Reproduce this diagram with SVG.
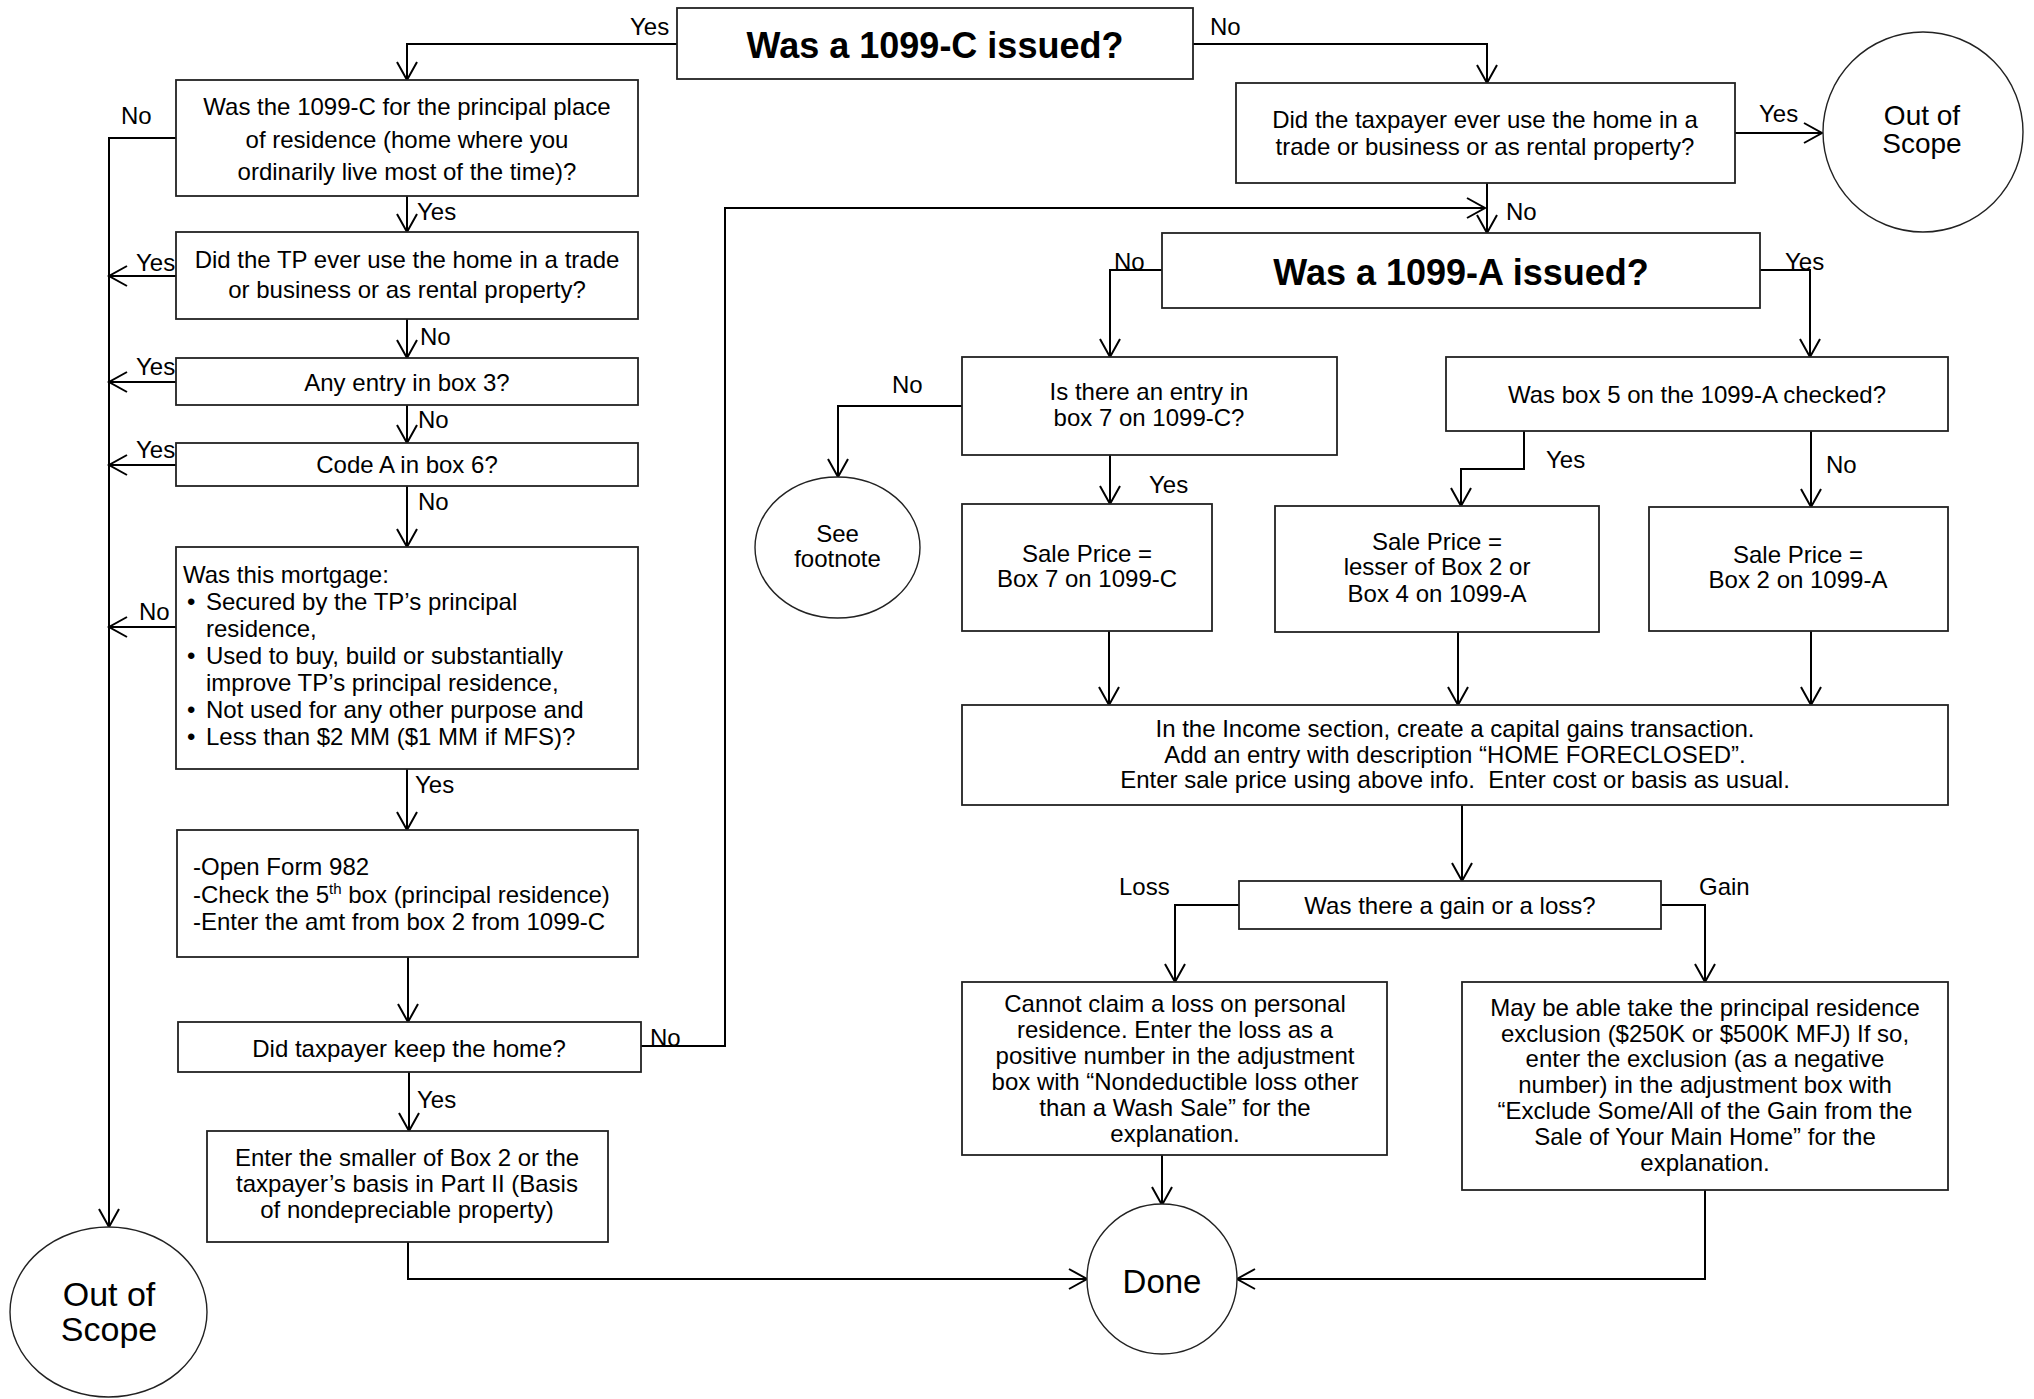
<svg xmlns="http://www.w3.org/2000/svg" width="2034" height="1399" viewBox="0 0 2034 1399">
<style>
text{font-family:"Liberation Sans",Arial,sans-serif;font-size:24px;fill:#000}
.c{text-anchor:middle}
.t{font-size:36px;font-weight:bold}
.big{font-size:34px}
.mid{font-size:28px}
.done{font-size:33px}
.sup{font-size:15px}
.lab{font-size:24px}
.box{fill:#fff;stroke:#222;stroke-width:1.8}
.oval{fill:#fff;stroke:#222;stroke-width:1.4}
.ln{fill:none;stroke:#000;stroke-width:2}
</style>
<defs>
<marker id="ar" markerWidth="20" markerHeight="22" refX="18" refY="11" orient="auto" markerUnits="userSpaceOnUse" overflow="visible">
<path d="M0,1 L18,11 L0,21" fill="none" stroke="#000" stroke-width="2"/>
</marker>
</defs>
<rect width="2034" height="1399" fill="#fff"/>

<g id="connectors">
<path class="ln" d="M677,44 H407 V80" marker-end="url(#ar)"/>
<path class="ln" d="M1193,44 H1487 V83" marker-end="url(#ar)"/>
<path class="ln" d="M1735,133 H1822" marker-end="url(#ar)"/>
<path class="ln" d="M1487,183 V233" marker-end="url(#ar)"/>
<path class="ln" d="M641,1046 H725 V208 H1485" marker-end="url(#ar)"/>
<path class="ln" d="M1162,270 H1110 V357" marker-end="url(#ar)"/>
<path class="ln" d="M1760,270 H1810 V357" marker-end="url(#ar)"/>
<path class="ln" d="M962,406 H838 V477" marker-end="url(#ar)"/>
<path class="ln" d="M1110,455 V504" marker-end="url(#ar)"/>
<path class="ln" d="M1109,631 V705" marker-end="url(#ar)"/>
<path class="ln" d="M1524,431 V469 H1461 V506" marker-end="url(#ar)"/>
<path class="ln" d="M1811,431 V507" marker-end="url(#ar)"/>
<path class="ln" d="M1458,632 V705" marker-end="url(#ar)"/>
<path class="ln" d="M1811,631 V705" marker-end="url(#ar)"/>
<path class="ln" d="M1462,805 V881" marker-end="url(#ar)"/>
<path class="ln" d="M1239,905 H1175 V982" marker-end="url(#ar)"/>
<path class="ln" d="M1661,905 H1705 V982" marker-end="url(#ar)"/>
<path class="ln" d="M1162,1155 V1205" marker-end="url(#ar)"/>
<path class="ln" d="M1705,1190 V1279 H1237" marker-end="url(#ar)"/>
<path class="ln" d="M408,1242 V1279 H1087" marker-end="url(#ar)"/>
<path class="ln" d="M176,138 H109 V1227" marker-end="url(#ar)"/>
<path class="ln" d="M176,276 H109" marker-end="url(#ar)"/>
<path class="ln" d="M176,382 H109" marker-end="url(#ar)"/>
<path class="ln" d="M176,465 H109" marker-end="url(#ar)"/>
<path class="ln" d="M176,627 H109" marker-end="url(#ar)"/>
<path class="ln" d="M407,196 V232" marker-end="url(#ar)"/>
<path class="ln" d="M407,319 V358" marker-end="url(#ar)"/>
<path class="ln" d="M407,405 V443" marker-end="url(#ar)"/>
<path class="ln" d="M407,486 V547" marker-end="url(#ar)"/>
<path class="ln" d="M407,769 V830" marker-end="url(#ar)"/>
<path class="ln" d="M408,957 V1022" marker-end="url(#ar)"/>
<path class="ln" d="M409,1072 V1131" marker-end="url(#ar)"/>
<g class="labels">
<text class="lab" x="630" y="35">Yes</text>
<text class="lab" x="1210" y="35">No</text>
<text class="lab" x="1759" y="122">Yes</text>
<text class="lab" x="1506" y="220">No</text>
<text class="lab" x="1114" y="270">No</text>
<text class="lab" x="1785" y="270">Yes</text>
<text class="lab" x="892" y="393">No</text>
<text class="lab" x="1149" y="493">Yes</text>
<text class="lab" x="1546" y="468">Yes</text>
<text class="lab" x="1826" y="473">No</text>
<text class="lab" x="1119" y="895">Loss</text>
<text class="lab" x="1699" y="895">Gain</text>
<text class="lab" x="121" y="124">No</text>
<text class="lab" x="136" y="271">Yes</text>
<text class="lab" x="136" y="375">Yes</text>
<text class="lab" x="136" y="458">Yes</text>
<text class="lab" x="139" y="620">No</text>
<text class="lab" x="417" y="220">Yes</text>
<text class="lab" x="420" y="345">No</text>
<text class="lab" x="418" y="428">No</text>
<text class="lab" x="418" y="510">No</text>
<text class="lab" x="415" y="793">Yes</text>
<text class="lab" x="417" y="1108">Yes</text>
<text class="lab" x="650" y="1046">No</text>
</g>
</g>

<g id="n-1099c">
<rect class="box" x="677" y="8" width="516" height="71"/>
<text class="c t" x="935" y="58">Was a 1099-C issued?</text>
</g>
<g id="n-principal">
<rect class="box" x="176" y="80" width="462" height="116"/>
<text class="c" x="407" y="115">Was the 1099-C for the principal place</text>
<text class="c" x="407" y="148">of residence (home where you</text>
<text class="c" x="407" y="180">ordinarily live most of the time)?</text>
</g>
<g id="n-tp-trade">
<rect class="box" x="176" y="232" width="462" height="87"/>
<text class="c" x="407" y="268">Did the TP ever use the home in a trade</text>
<text class="c" x="407" y="298">or business or as rental property?</text>
</g>
<g id="n-box3">
<rect class="box" x="176" y="358" width="462" height="47"/>
<text class="c" x="407" y="391">Any entry in box 3?</text>
</g>
<g id="n-box6">
<rect class="box" x="176" y="443" width="462" height="43"/>
<text class="c" x="407" y="473">Code A in box 6?</text>
</g>
<g id="n-mortgage">
<rect class="box" x="176" y="547" width="462" height="222"/>
<text x="183" y="583">Was this mortgage:</text>
<text x="187" y="610">•</text><text x="206" y="610">Secured by the TP’s principal</text>
<text x="206" y="637">residence,</text>
<text x="187" y="664">•</text><text x="206" y="664">Used to buy, build or substantially</text>
<text x="206" y="691">improve TP’s principal residence,</text>
<text x="187" y="718">•</text><text x="206" y="718">Not used for any other purpose and</text>
<text x="187" y="745">•</text><text x="206" y="745">Less than $2 MM ($1 MM if MFS)?</text>
</g>
<g id="n-form982">
<rect class="box" x="177" y="830" width="461" height="127"/>
<text x="193" y="875">-Open Form 982</text>
<text x="193" y="903">-Check the 5<tspan class="sup" dy="-9">th</tspan><tspan dy="9"> box (principal residence)</tspan></text>
<text x="193" y="930">-Enter the amt from box 2 from 1099-C</text>
</g>
<g id="n-keep">
<rect class="box" x="178" y="1022" width="463" height="50"/>
<text class="c" x="409" y="1057">Did taxpayer keep the home?</text>
</g>
<g id="n-smaller">
<rect class="box" x="207" y="1131" width="401" height="111"/>
<text class="c" x="407" y="1166">Enter the smaller of Box 2 or the</text>
<text class="c" x="407" y="1192">taxpayer’s basis in Part II (Basis</text>
<text class="c" x="407" y="1218">of nondepreciable property)</text>
</g>
<g id="n-oos-left">
<ellipse class="oval" cx="108.5" cy="1312" rx="98.5" ry="85"/>
<text class="c big" x="109" y="1306">Out of</text>
<text class="c big" x="109" y="1341">Scope</text>
</g>
<g id="n-taxpayer-trade">
<rect class="box" x="1236" y="83" width="499" height="100"/>
<text class="c" x="1485" y="128">Did the taxpayer ever use the home in a</text>
<text class="c" x="1485" y="155">trade or business or as rental property?</text>
</g>
<g id="n-oos-right">
<circle class="oval" cx="1923" cy="132" r="100"/>
<text class="c mid" x="1922" y="125">Out of</text>
<text class="c mid" x="1922" y="153">Scope</text>
</g>
<g id="n-1099a">
<rect class="box" x="1162" y="233" width="598" height="75"/>
<text class="c t" x="1461" y="285">Was a 1099-A issued?</text>
</g>
<g id="n-box7">
<rect class="box" x="962" y="357" width="375" height="98"/>
<text class="c" x="1149" y="400">Is there an entry in</text>
<text class="c" x="1149" y="426">box 7 on 1099-C?</text>
</g>
<g id="n-footnote">
<ellipse class="oval" cx="837.5" cy="547.5" rx="82.5" ry="70.5"/>
<text class="c" x="837.5" y="542">See</text>
<text class="c" x="837.5" y="567">footnote</text>
</g>
<g id="n-box5">
<rect class="box" x="1446" y="357" width="502" height="74"/>
<text class="c" x="1697" y="403">Was box 5 on the 1099-A checked?</text>
</g>
<g id="n-sale7">
<rect class="box" x="962" y="504" width="250" height="127"/>
<text class="c" x="1087" y="562">Sale Price =</text>
<text class="c" x="1087" y="587">Box 7 on 1099-C</text>
</g>
<g id="n-lesser">
<rect class="box" x="1275" y="506" width="324" height="126"/>
<text class="c" x="1437" y="550">Sale Price =</text>
<text class="c" x="1437" y="575">lesser of Box 2 or</text>
<text class="c" x="1437" y="602">Box 4 on 1099-A</text>
</g>
<g id="n-box2">
<rect class="box" x="1649" y="507" width="299" height="124"/>
<text class="c" x="1798" y="563">Sale Price =</text>
<text class="c" x="1798" y="588">Box 2 on 1099-A</text>
</g>
<g id="n-income">
<rect class="box" x="962" y="705" width="986" height="100"/>
<text class="c" x="1455" y="737">In the Income section, create a capital gains transaction.</text>
<text class="c" x="1455" y="763">Add an entry with description “HOME FORECLOSED”.</text>
<text class="c" x="1455" y="788">Enter sale price using above info.&#160; Enter cost or basis as usual.</text>
</g>
<g id="n-gainloss">
<rect class="box" x="1239" y="881" width="422" height="48"/>
<text class="c" x="1450" y="914">Was there a gain or a loss?</text>
</g>
<g id="n-loss">
<rect class="box" x="962" y="982" width="425" height="173"/>
<text class="c" x="1175" y="1012">Cannot claim a loss on personal</text>
<text class="c" x="1175" y="1038">residence. Enter the loss as a</text>
<text class="c" x="1175" y="1064">positive number in the adjustment</text>
<text class="c" x="1175" y="1090">box with “Nondeductible loss other</text>
<text class="c" x="1175" y="1116">than a Wash Sale” for the</text>
<text class="c" x="1175" y="1142">explanation.</text>
</g>
<g id="n-gain">
<rect class="box" x="1462" y="982" width="486" height="208"/>
<text class="c" x="1705" y="1016">May be able take the principal residence</text>
<text class="c" x="1705" y="1042">exclusion ($250K or $500K MFJ) If so,</text>
<text class="c" x="1705" y="1067">enter the exclusion (as a negative</text>
<text class="c" x="1705" y="1093">number) in the adjustment box with</text>
<text class="c" x="1705" y="1119">“Exclude Some/All of the Gain from the</text>
<text class="c" x="1705" y="1145">Sale of Your Main Home” for the</text>
<text class="c" x="1705" y="1171">explanation.</text>
</g>
<g id="n-done">
<circle class="oval" cx="1162" cy="1279" r="75"/>
<text class="c done" x="1162" y="1293">Done</text>
</g>
</svg>
